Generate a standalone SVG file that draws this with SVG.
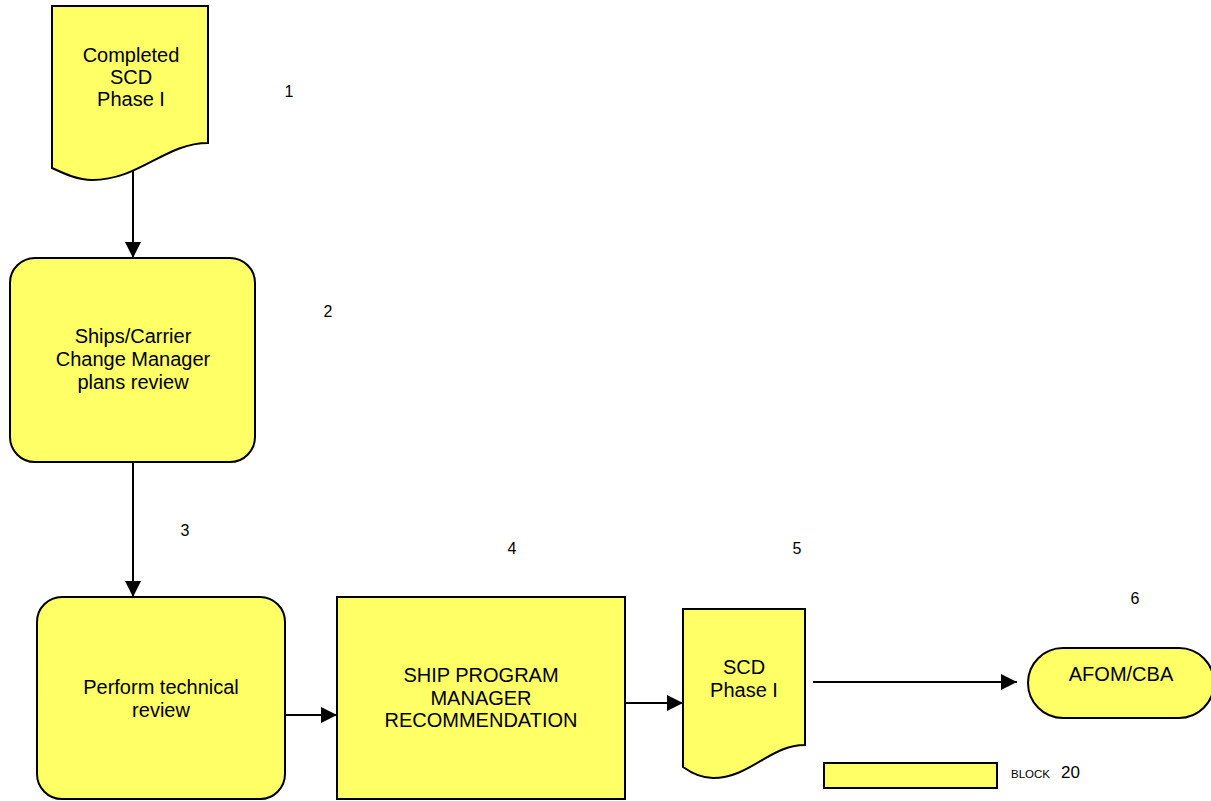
<svg xmlns="http://www.w3.org/2000/svg" width="1211" height="801" viewBox="0 0 1211 801">
<defs>
<style>
.shape{fill:#FFFF66;stroke:#000;stroke-width:2}
.t{font-family:"Liberation Sans",Arial,sans-serif;font-size:20px;fill:#000;text-anchor:middle}
.n{font-family:"Liberation Sans",Arial,sans-serif;font-size:16px;fill:#000;text-anchor:middle}
.c{stroke:#000;stroke-width:2;fill:none;marker-end:url(#ah)}
</style>
<marker id="ah" viewBox="0 0 16 16" refX="16" refY="8" markerWidth="16" markerHeight="16" markerUnits="userSpaceOnUse" orient="auto">
<path d="M0,0 L16,8 L0,16 Z" fill="#000"/>
</marker>
</defs>
<rect width="1211" height="801" fill="#fff"/>
<g id="connectors">
<line class="c" x1="133" y1="170" x2="133" y2="258"/>
<line class="c" x1="133" y1="462" x2="133" y2="597"/>
<line class="c" x1="285" y1="715" x2="337" y2="715"/>
<line class="c" x1="625" y1="703" x2="683" y2="703"/>
<line class="c" x1="813" y1="682" x2="1017" y2="682"/>
</g>
<g id="n1">
<path class="shape" d="M52,6 H208 V143 C165,143 140,180 92,180 C78,180 65,174 52,168 Z"/>
<text class="t" x="131" y="62">Completed</text>
<text class="t" x="131" y="84">SCD</text>
<text class="t" x="131" y="106">Phase I</text>
</g>
<g id="n2">
<rect class="shape" x="10" y="258" width="245" height="204" rx="25" ry="25"/>
<text class="t" x="133" y="343">Ships/Carrier</text>
<text class="t" x="133" y="366">Change Manager</text>
<text class="t" x="133" y="389">plans review</text>
</g>
<g id="n3">
<rect class="shape" x="37" y="597" width="248" height="202" rx="25" ry="25"/>
<text class="t" x="161" y="694">Perform technical</text>
<text class="t" x="161" y="717">review</text>
</g>
<g id="n4">
<rect class="shape" x="337" y="597" width="288" height="202"/>
<text class="t" x="481" y="682">SHIP PROGRAM</text>
<text class="t" x="481" y="705">MANAGER</text>
<text class="t" x="481" y="727">RECOMMENDATION</text>
</g>
<g id="n5">
<path class="shape" d="M683,609 H805 V745 C770,745 750,778 713,778 C700,778 690,772 683,767 Z"/>
<text class="t" x="744" y="674">SCD</text>
<text class="t" x="744" y="697">Phase I</text>
</g>
<g id="n6">
<rect class="shape" x="1028" y="648" width="186" height="70" rx="35" ry="35"/>
<text class="t" x="1121" y="681">AFOM/CBA</text>
</g>
<g id="labels">
<text class="n" x="289" y="97">1</text>
<text class="n" x="328" y="317">2</text>
<text class="n" x="185" y="536">3</text>
<text class="n" x="512" y="554">4</text>
<text class="n" x="797" y="554">5</text>
<text class="n" x="1135" y="604">6</text>
</g>
<g id="legend">
<rect class="shape" x="824" y="763" width="173" height="25"/>
<text font-family="'Liberation Sans',Arial,sans-serif" fill="#000" y="778"><tspan x="1011" font-size="11.5">BLOCK</tspan><tspan x="1061" font-size="17">20</tspan></text>
</g>
</svg>
